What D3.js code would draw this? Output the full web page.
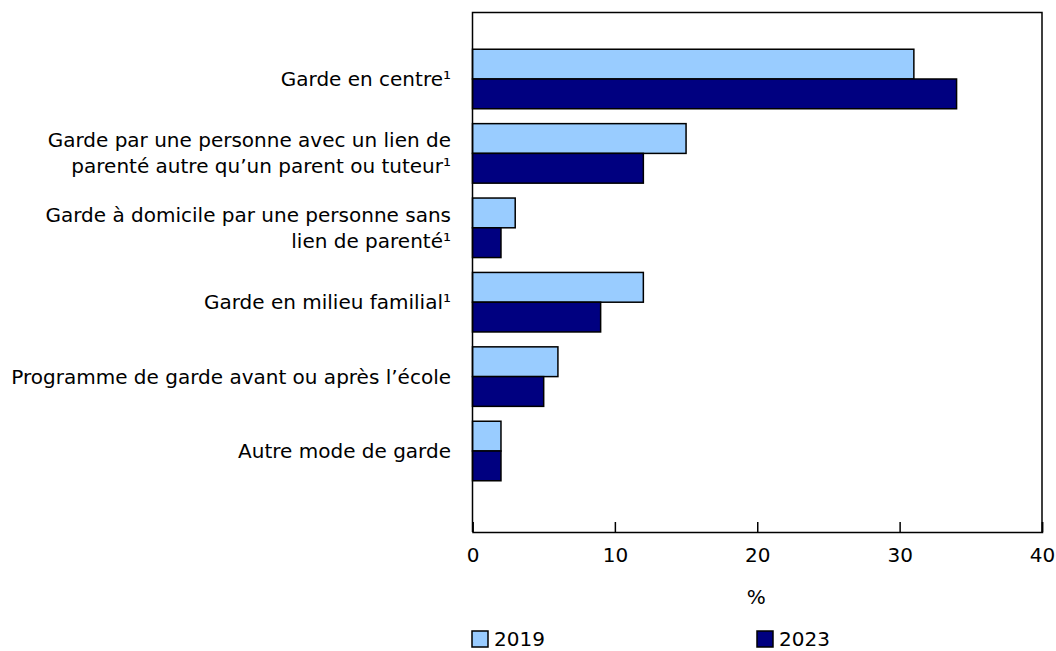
<!DOCTYPE html>
<html><head><meta charset="utf-8">
<script src="https://cdn.jsdelivr.net/npm/d3@7"></script>
<style>body{margin:0;background:#fff}svg{display:block}text{font-family:"DejaVu Sans",Verdana,sans-serif;fill:#000}</style>
</head><body><svg id="c" width="1056" height="651"></svg>
<script>
const categories = [
  ["Garde en centre\u00b9"],
  ["Garde par une personne avec un lien de", "parenté autre qu\u2019un parent ou tuteur\u00b9"],
  ["Garde à domicile par une personne sans", "lien de parenté\u00b9"],
  ["Garde en milieu familial\u00b9"],
  ["Programme de garde avant ou après l\u2019école"],
  ["Autre mode de garde"]
];
const seriesNames = ["2019", "2023"];
const values2019 = [31, 15, 3, 12, 6, 2];
const values2023 = [34, 12, 2, 9, 5, 2];
const xTicks = [0, 10, 20, 30, 40];
const colors = ["#99ccff", "#000080"];

const FS = 20;
const svg = d3.select("#c");
const L = 472.5, R = 1042, T = 12.5, B = 532;
const x = d3.scaleLinear().domain([0, 40]).range([L, R]);
const idx = categories.map((d, i) => i);
const y = d3.scaleBand().domain(idx).range([41.8, 488.2]).paddingInner(0.2).paddingOuter(0.1);
const ys = d3.scaleBand().domain(seriesNames).range([0, y.bandwidth()]);

const series = [values2019, values2023];
series.forEach((vals, s) => {
  svg.append("g").selectAll("rect").data(vals).join("rect")
    .attr("x", x(0)).attr("y", (d, i) => y(i) + ys(seriesNames[s]))
    .attr("width", d => x(d) - x(0)).attr("height", ys.bandwidth())
    .attr("fill", colors[s]).attr("stroke", "#000").attr("stroke-width", 1.5);
});

// frame
svg.append("path").attr("d", `M${L},${B}V${T}H${R}V${B}`).attr("fill", "none").attr("stroke", "#000").attr("stroke-width", 1.5);

const xAxis = d3.axisBottom(x).tickValues(xTicks).tickSize(-10).tickPadding(16).tickFormat(d3.format("d"));
const gx = svg.append("g").attr("transform", `translate(0,${B})`).call(xAxis)
  .attr("font-size", FS).attr("font-family", "DejaVu Sans");
gx.select(".domain").attr("stroke", "#000").attr("stroke-width", 1.5);
gx.selectAll(".tick line").attr("stroke", "#000").attr("stroke-width", 1.5);
gx.selectAll("text").style("font-size", FS + "px").attr("fill", "#000");

svg.append("text").attr("x", (L + R) / 2 - 1).attr("y", 604).attr("text-anchor", "middle").style("font-size", FS + "px").text("%");

// category labels
const lh = 26;
categories.forEach((lines, i) => {
  const cy = y(i) + y.bandwidth() / 2;
  const t = svg.append("text").attr("text-anchor", "end").style("font-size", FS + "px");
  lines.forEach((ln, j) => {
    t.append("tspan").attr("x", 451).attr("y", cy + (j - (lines.length - 1) / 2) * lh + 7).text(ln);
  });
});

// legend
const legX = [472, 757];
seriesNames.forEach((n, s) => {
  svg.append("rect").attr("x", legX[s]).attr("y", 631).attr("width", 16).attr("height", 16)
    .attr("fill", colors[s]).attr("stroke", "#000").attr("stroke-width", 1.5);
  svg.append("text").attr("x", legX[s] + 22).attr("y", 646).style("font-size", FS + "px").text(n);
});
</script></body></html>
